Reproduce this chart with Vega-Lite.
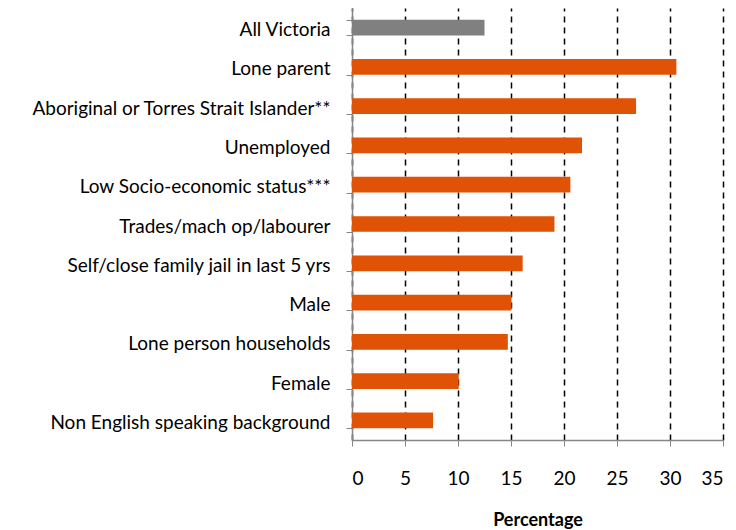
{
  "$schema": "https://vega.github.io/schema/vega-lite/v6.json",
  "width": 371,
  "height": 432,
  "autosize": {"type": "none"},
  "padding": {"left": 352, "top": 8, "right": 13, "bottom": 90},
  "background": "white",
  "config": {"view": {"stroke": null}, "font": "Lato"},
  "data": {
    "values": [
      {"group": "All Victoria", "pct": 12.5, "kind": "all"},
      {"group": "Lone parent", "pct": 30.6, "kind": "sub"},
      {"group": "Aboriginal or Torres Strait Islander**", "pct": 26.8, "kind": "sub"},
      {"group": "Unemployed", "pct": 21.7, "kind": "sub"},
      {"group": "Low Socio-economic status***", "pct": 20.6, "kind": "sub"},
      {"group": "Trades/mach op/labourer", "pct": 19.1, "kind": "sub"},
      {"group": "Self/close family jail in last 5 yrs", "pct": 16.1, "kind": "sub"},
      {"group": "Male", "pct": 15.05, "kind": "sub"},
      {"group": "Lone person households", "pct": 14.7, "kind": "sub"},
      {"group": "Female", "pct": 10.07, "kind": "sub"},
      {"group": "Non English speaking background", "pct": 7.65, "kind": "sub"}
    ]
  },
  "mark": {"type": "bar"},
  "encoding": {
    "y": {
      "field": "group",
      "type": "nominal",
      "sort": null,
      "scale": {"paddingInner": 0.6, "paddingOuter": 0.3},
      "axis": {
        "title": null,
        "tickBand": "extent",
        "domainColor": "#868686",
        "tickColor": "#868686",
        "tickSize": 6,
        "domainWidth": 1.5,
        "labelFontSize": 19,
        "labelColor": "#000000",
        "labelPadding": 16,
        "labelOffset": 2,
        "labelLimit": 400,
        "grid": false
      }
    },
    "x": {
      "field": "pct",
      "type": "quantitative",
      "scale": {"domain": [0, 35], "nice": false},
      "axis": {
        "title": "Percentage",
        "titleFontSize": 18,
        "titleFontWeight": "bold",
        "titleColor": "#000000",
        "titlePadding": 23,
        "values": [0, 5, 10, 15, 20, 25, 30, 35],
        "labelFontSize": 19,
        "labelColor": "#000000",
        "labelPadding": 23,
        "domainColor": "#868686",
        "domainWidth": 1.5,
        "tickColor": "#868686",
        "tickSize": 6,
        "grid": true,
        "gridColor": "#000000",
        "gridDash": [6, 5],
        "gridWidth": 1.5
      }
    },
    "color": {
      "field": "kind",
      "type": "nominal",
      "scale": {"domain": ["all", "sub"], "range": ["#808080", "#E05206"]},
      "legend": null
    }
  }
}
